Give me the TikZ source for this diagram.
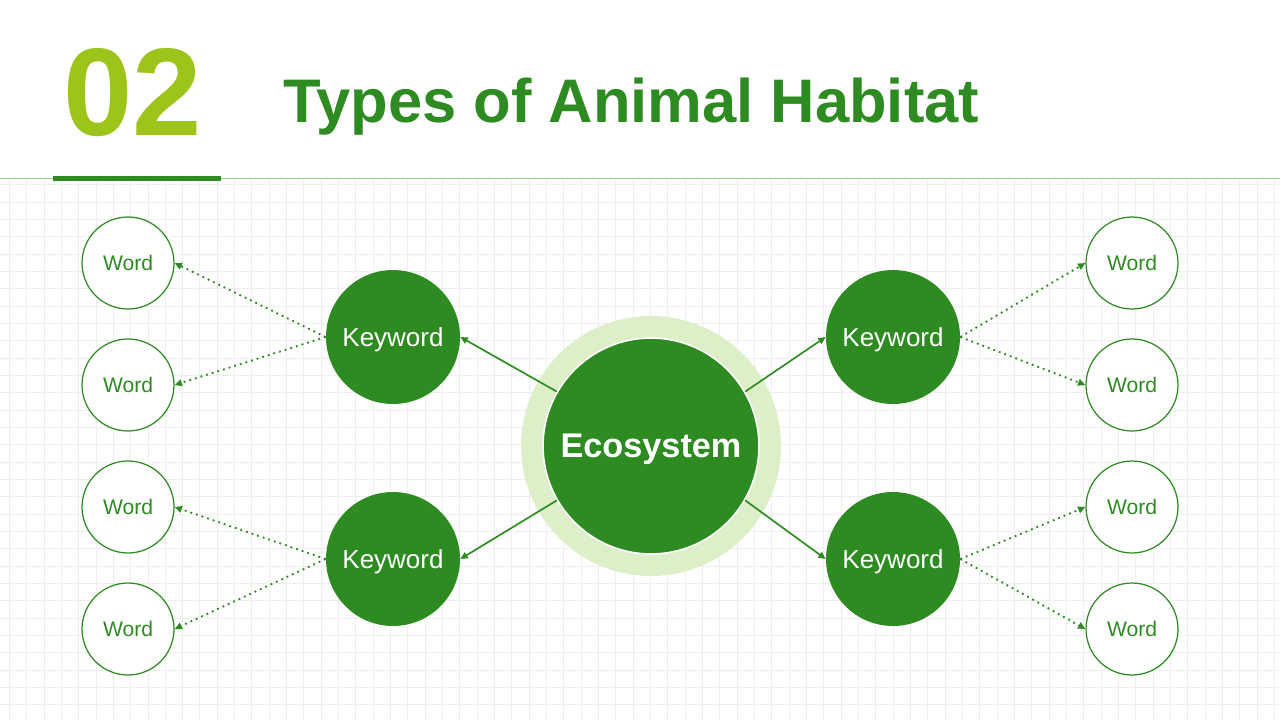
\documentclass[tikz,border=0pt]{standalone}
\usepackage{fontspec}
\setmainfont{Liberation Sans}
\usetikzlibrary{arrows.meta}
\definecolor{leafgreen}{HTML}{2E8B22}
\definecolor{limegreen}{HTML}{9DC41A}
\definecolor{halogreen}{HTML}{DCEFC8}
\definecolor{rulegreen}{HTML}{9CCB8A}
\definecolor{gridgray}{HTML}{EEEEEE}

\begin{document}
\begin{tikzpicture}[x=0.02cm,y=-0.02cm]
  \tikzset{word/.style = {shape=circle,draw=leafgreen,line width=0.7pt,fill=white,minimum size=1.84cm,inner sep=0pt,text depth=0pt,text=leafgreen,font=\fontsize{12}{13}\selectfont}}
  \tikzset{keyword/.style = {shape=circle,fill=leafgreen,minimum size=2.68cm,inner sep=0pt,text depth=0pt,text=white,font=\fontsize{14.8}{16}\selectfont}}
  \tikzset{edge/.style = {-tipA,draw=leafgreen,line width=0.95pt}}
  \tikzset{dotedge/.style = {-tipA,draw=leafgreen,line width=1.05pt,dash pattern=on 1.05pt off 2.3pt}}
  \tikzset{%
  tipA/.tip={Triangle[length=4.2pt,width=3.8pt]},
}

	\useasboundingbox (0,0) rectangle (1280,720);
	\fill[white] (0,0) rectangle (1280,720);

	% grid
	\foreach \gx in {0,...,73}
	\draw[gridgray,line width=0.5pt] ({9.3+17.33*\gx},178) -- ({9.3+17.33*\gx},720);
	\foreach \gy in {0,...,31}
	\draw[gridgray,line width=0.5pt] (0,{184.7+17.33*\gy}) -- (1280,{184.7+17.33*\gy});

	% header
	\node[anchor=base west,inner sep=0pt,text=limegreen,font=\fontsize{71}{71}\bfseries] (num) at (63,135) {02};
	\node[anchor=base west,inner sep=0pt,text=leafgreen,font=\fontsize{35}{40}\bfseries] (title) at (283,122) {Types of Animal Habitat};
	\draw[rulegreen,line width=0.8pt] (0,178.5) -- (1280,178.5);
	\fill[leafgreen] (53,176) rectangle (221,181);

	\node[shape=circle,fill=halogreen,minimum size=5.2cm,inner sep=0pt] (halo) at (651,446) {};
	\node[shape=circle,fill=leafgreen,draw=white,line width=0.9pt,minimum size=4.32cm,inner sep=0pt,text depth=0pt,text=white,font=\fontsize{19.5}{22}\bfseries] (eco) at (651,446) {Ecosystem};

	\node[keyword] (kwTL) at (393,337) {Keyword};
	\node[keyword] (kwBL) at (393,559) {Keyword};
	\node[keyword] (kwTR) at (893,337) {Keyword};
	\node[keyword] (kwBR) at (893,559) {Keyword};

	\node[word] (wL1) at (128,263) {Word};
	\node[word] (wL2) at (128,385) {Word};
	\node[word] (wL3) at (128,507) {Word};
	\node[word] (wL4) at (128,629) {Word};
	\node[word] (wR1) at (1132,263) {Word};
	\node[word] (wR2) at (1132,385) {Word};
	\node[word] (wR3) at (1132,507) {Word};
	\node[word] (wR4) at (1132,629) {Word};

    \foreach \from/\to in {eco.150/kwTL.east, eco.210/kwBL.east, eco.30/kwTR.west, eco.330/kwBR.west}
    \path (\from) edge[edge] (\to);

    \foreach \from/\to in {kwTL.west/wL1.east, kwTL.west/wL2.east, kwBL.west/wL3.east, kwBL.west/wL4.east, kwTR.east/wR1.west, kwTR.east/wR2.west, kwBR.east/wR3.west, kwBR.east/wR4.west}
    \path (\from) edge[dotedge] (\to);

\end{tikzpicture}
\end{document}
